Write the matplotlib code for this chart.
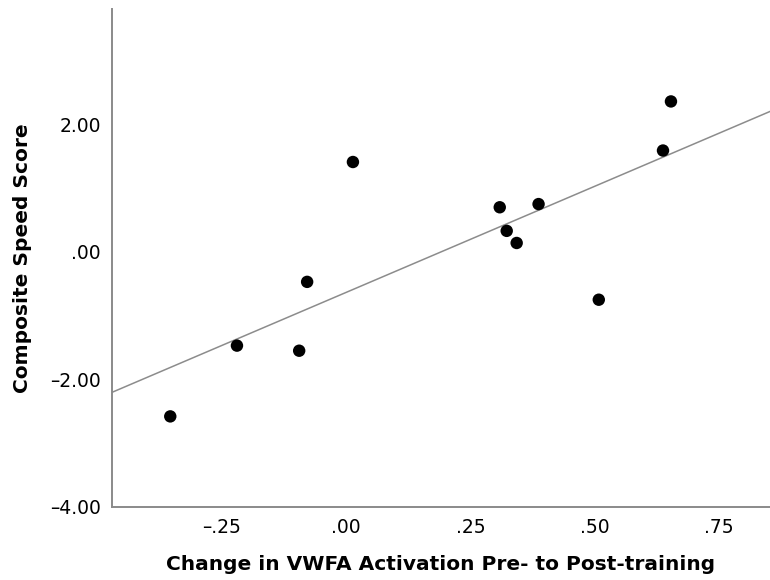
import matplotlib

matplotlib.use("Agg")
import matplotlib.pyplot as plt
import numpy as np
from matplotlib.ticker import FuncFormatter

# change in VWFA activation (x) and composite speed score (y)
vwfa_change = [0.014, -0.078, -0.219, -0.094, -0.353, 0.309, 0.323, 0.343, 0.387, 0.508, 0.637, 0.653]
speed_score = [1.41, -0.47, -1.47, -1.55, -2.58, 0.70, 0.33, 0.14, 0.75, -0.75, 1.59, 2.36]

x_ticks = [-0.25, 0.0, 0.25, 0.50, 0.75]
y_ticks = [-4.0, -2.0, 0.0, 2.0]

SPINE = "#8a8a8a"

plt.rcParams.update({"font.family": "DejaVu Sans", "text.color": "black"})


def spss_fmt(v, _pos):
    # SPSS style: no leading zero, e.g. -.25, .00, 2.00
    s = f"{v:.2f}"
    if s.startswith("-0."):
        s = "-" + s[2:]
    elif s.startswith("0."):
        s = s[1:]
    return s.replace("-", "\u2013")


fig = plt.figure(figsize=(7.7, 5.8), dpi=100)
ax = fig.add_axes([0.1455, 0.126, 0.8545, 0.8585])

xlim = (-0.47, 0.852)
ax.set_xlim(*xlim)
ax.set_ylim(-4.0, 3.81)

# fit line across the whole x range
slope, icpt = np.polyfit(vwfa_change, speed_score, 1)
xs = np.array(xlim)
ax.plot(xs, slope * xs + icpt, color="#8c8c8c", linewidth=1.1, zorder=2)

ax.scatter(vwfa_change, speed_score, s=80, color="black", edgecolors="none", zorder=3)

ax.set_xticks(x_ticks)
ax.set_yticks(y_ticks)
ax.xaxis.set_major_formatter(FuncFormatter(spss_fmt))
ax.yaxis.set_major_formatter(FuncFormatter(spss_fmt))
ax.tick_params(length=0, labelsize=13.5, pad=8)

ax.set_xlabel("Change in VWFA Activation Pre- to Post-training", fontsize=14.5,
              fontweight="bold", labelpad=13)
ax.set_ylabel("Composite Speed Score", fontsize=14.5, fontweight="bold", labelpad=13)

for s in ("top", "right"):
    ax.spines[s].set_visible(False)
for s in ("left", "bottom"):
    ax.spines[s].set_color(SPINE)
    ax.spines[s].set_linewidth(1.4)

fig.savefig("out.png", dpi=100)
